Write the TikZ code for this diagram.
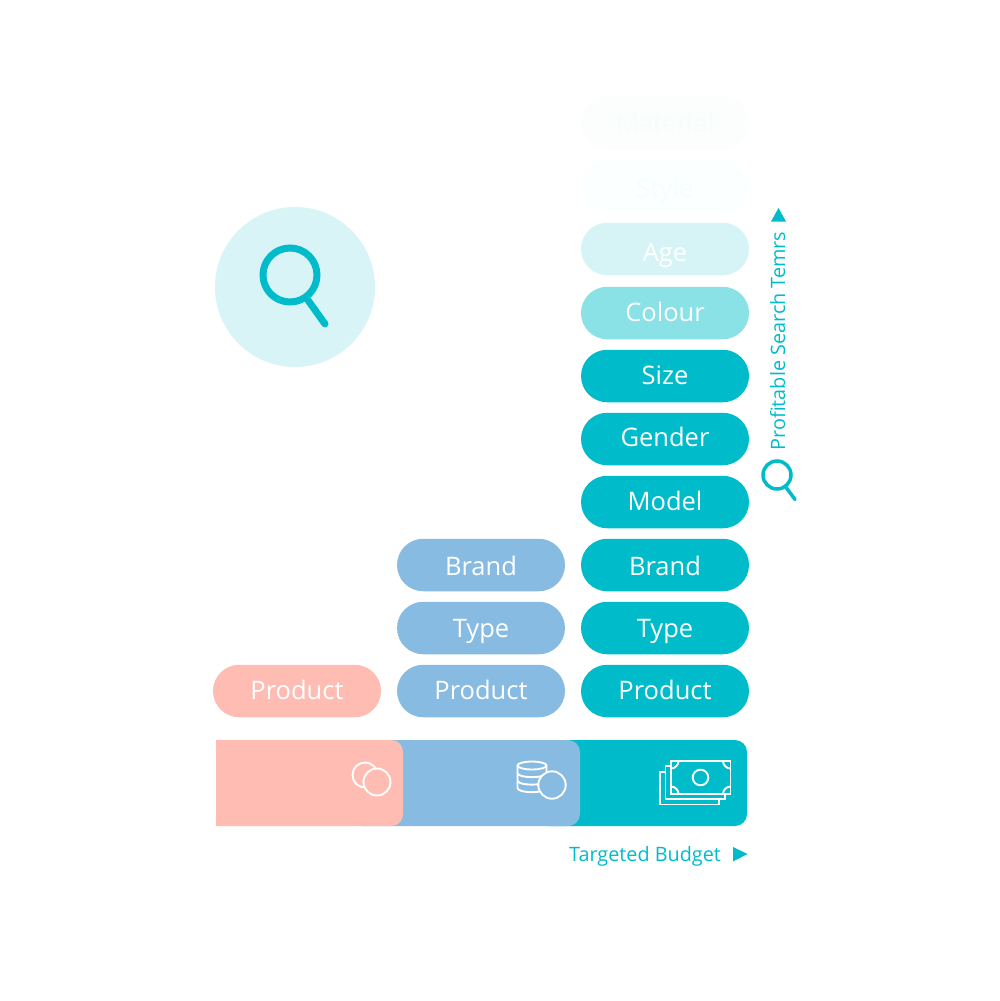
\documentclass[tikz,border=0pt]{standalone}
\usepackage{fontspec}
\setmainfont{Open Sans}
\usetikzlibrary{shapes.misc}
\definecolor{teal}{HTML}{00BCCA}
\definecolor{bluec}{HTML}{88BBE2}
\definecolor{pinkc}{HTML}{FFBCB2}
\definecolor{colourc}{HTML}{8AE1E6}
\definecolor{agec}{HTML}{D6F4F6}
\definecolor{stylec}{HTML}{FBFFFF}
\definecolor{materialc}{HTML}{FCFEFE}
\definecolor{halo}{HTML}{D9F4F6}
\definecolor{fainttext}{HTML}{F7FCFD}
\tikzset{
  pill/.style={rounded rectangle,minimum width=168pt,minimum height=52.5pt,inner sep=0pt,text=white,
    font=\fontsize{25.5}{28}\selectfont,text depth=0pt,text height=16pt},
  drop/.style={text height=#1*2pt},
  icon/.style={draw=white,line width=1.9pt},
  side/.style={text=teal,font=\fontsize{19.8}{22}\selectfont,inner sep=0pt}
}
\begin{document}
\begin{tikzpicture}[x=1pt,y=-1pt]
\useasboundingbox (0,0) rectangle (1000,1001);
\fill[white] (0,0) rectangle (1000,1001);
% halo and magnifier
\node[circle,fill=halo,minimum size=160pt,inner sep=0pt] (halo) at (295,287) {};
\node[circle,draw=teal,line width=7pt,minimum size=54pt,inner sep=0pt] (lens) at (290,275) {};
\coordinate (handle) at (325,324);
\draw[teal,line width=7pt,line cap=round] (lens) -- (handle);
% pills
\node[pill,drop=8,fill=pinkc] (p1) at (297,691) {Product};
\node[pill,drop=8,fill=bluec] (p2) at (481,691) {Product};
\node[pill,drop=9,fill=bluec] (t2) at (481,628) {Type};
\node[pill,drop=10,fill=bluec] (b2) at (481,565) {Brand};
\node[pill,drop=8,fill=teal] (p3) at (665,691) {Product};
\node[pill,drop=9,fill=teal] (t3) at (665,628) {Type};
\node[pill,drop=10,fill=teal] (b3) at (665,565) {Brand};
\node[pill,drop=8,fill=teal] (m3) at (665,502) {Model};
\node[pill,drop=7,fill=teal] (g3) at (665,439) {Gender};
\node[pill,drop=8.5,fill=teal] (s3) at (665,376) {Size};
\node[pill,drop=8,fill=colourc] (c3) at (665,313) {Colour};
\node[pill,drop=12,fill=agec] (a3) at (665,249) {Age};
\node[pill,drop=11,fill=stylec,text=fainttext] (st3) at (665,186) {Style};
\node[pill,drop=9,fill=materialc,text=fainttext] (ma3) at (665,123) {Material};
% budget bars
\fill[teal,rounded corners=12pt] (536,740) rectangle (747,826);
\fill[bluec,rounded corners=12pt] (350,740) rectangle (580,826);
\fill[pinkc] (216,740) -- (391,740) .. controls (398,740) and (403,745) .. (403,752) -- (403,814) .. controls (403,821) and (398,826) .. (391,826) -- (216,826) -- cycle;
% coins
\draw[icon] (365,775) circle[radius=12.5];
\draw[icon,fill=pinkc] (377,782) circle[radius=13.5];
% stack
\draw[icon] (532,765.5) ellipse[x radius=14.5,y radius=4];
\draw[icon] (517.5,765.5) -- (517.5,788) .. controls (517.5,793.5) and (546.5,793.5) .. (546.5,788) -- (546.5,765.5);
\draw[icon] (517.5,773) .. controls (517.5,778.5) and (546.5,778.5) .. (546.5,773);
\draw[icon] (517.5,780.5) .. controls (517.5,786) and (546.5,786) .. (546.5,780.5);
\draw[icon,fill=bluec] (552,785) circle[radius=13.7];
% bills
\draw[icon] (665.5,772) -- (660,772) -- (660,804.5) -- (719,804.5) -- (719,799);
\draw[icon] (671,766) -- (665.5,766) -- (665.5,799) -- (725,799) -- (725,794);
\draw[icon,fill=teal] (671,761) rectangle (730.5,794);
\draw[icon] (700.5,777.5) circle[radius=7.8];
\draw[icon] (671,768.5) .. controls (675,768.5) and (678.5,765) .. (678.5,761);
\draw[icon] (730.5,768.5) .. controls (726.5,768.5) and (723,765) .. (723,761);
\draw[icon] (671,786.5) .. controls (675,786.5) and (678.5,790) .. (678.5,794);
\draw[icon] (730.5,786.5) .. controls (726.5,786.5) and (723,790) .. (723,794);
% axis labels
\node[side,anchor=base west] (budget) at (569,861) {Targeted Budget};
\fill[teal] (733,847) -- (747.5,854) -- (733,861.5) -- cycle;
\node[side,rotate=90,anchor=base west] (terms) at (785,450.5) {Profitable Search Temrs};
\fill[teal] (771,221.5) -- (778.5,208) -- (786,221.5) -- cycle;
\node[circle,draw=teal,line width=3.5pt,minimum size=28pt,inner sep=0pt] (lens2) at (777,475) {};
\coordinate (handle2) at (795,499.5);
\draw[teal,line width=3.5pt,line cap=round] (lens2) -- (handle2);
\end{tikzpicture}
\end{document}
